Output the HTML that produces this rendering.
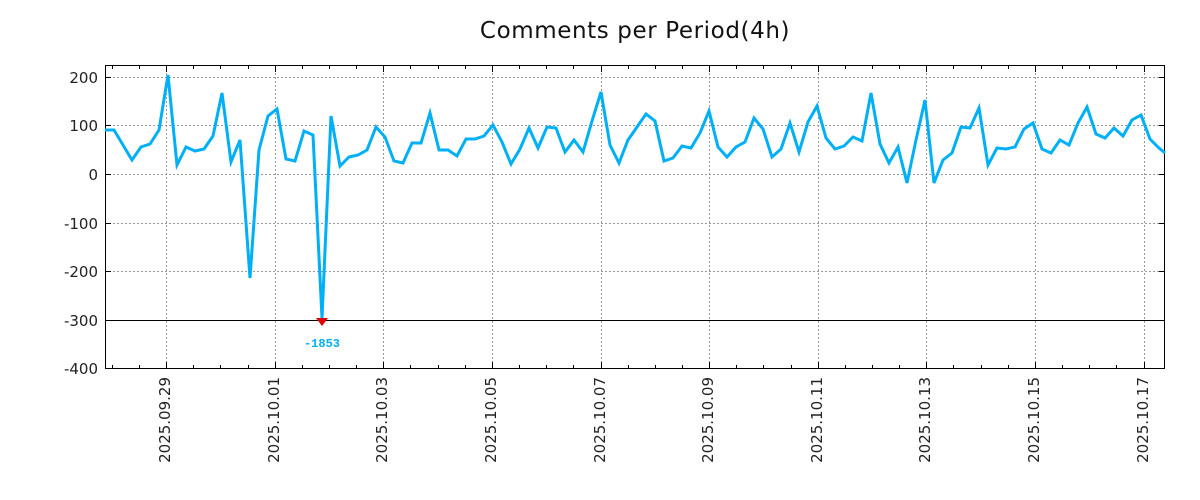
<!DOCTYPE html>
<html><head><meta charset="utf-8"><style>
body{margin:0;background:#fff;}
svg{display:block;font-family:"DejaVu Sans","Liberation Sans",sans-serif;}
</style></head><body>
<svg width="1200" height="500" viewBox="0 0 1200 500" xmlns="http://www.w3.org/2000/svg">
<rect width="1200" height="500" fill="#fff"/>
<text x="635" y="38" font-size="23" letter-spacing="0.6" text-anchor="middle" fill="#111">Comments per Period(4h)</text>
<g stroke="#999" stroke-width="1" stroke-dasharray="2,2">
<line x1="105" y1="77.5" x2="1165" y2="77.5"/>
<line x1="105" y1="125.5" x2="1165" y2="125.5"/>
<line x1="105" y1="174.5" x2="1165" y2="174.5"/>
<line x1="105" y1="223.5" x2="1165" y2="223.5"/>
<line x1="105" y1="271.5" x2="1165" y2="271.5"/>
<line x1="166.5" y1="65" x2="166.5" y2="368"/>
<line x1="275.5" y1="65" x2="275.5" y2="368"/>
<line x1="383.5" y1="65" x2="383.5" y2="368"/>
<line x1="492.5" y1="65" x2="492.5" y2="368"/>
<line x1="601.5" y1="65" x2="601.5" y2="368"/>
<line x1="709.5" y1="65" x2="709.5" y2="368"/>
<line x1="818.5" y1="65" x2="818.5" y2="368"/>
<line x1="926.5" y1="65" x2="926.5" y2="368"/>
<line x1="1035.5" y1="65" x2="1035.5" y2="368"/>
<line x1="1144.5" y1="65" x2="1144.5" y2="368"/>
</g>
<line x1="105" y1="320.5" x2="1165" y2="320.5" stroke="#000" stroke-width="1"/>
<rect x="105.5" y="65.5" width="1059" height="303" fill="none" stroke="#000" stroke-width="1"/>
<g stroke="#000" stroke-width="1">
<path d="M105,77.5h6M105,125.5h6M105,174.5h6M105,223.5h6M105,271.5h6M105,320.5h6M1165,77.5h-6M1165,125.5h-6M1165,174.5h-6M1165,223.5h-6M1165,271.5h-6"/>
<path d="M112.5,368v-3M139.5,368v-3M166.5,368v-6M193.5,368v-3M220.5,368v-3M248.5,368v-3M275.5,368v-6M302.5,368v-3M329.5,368v-3M356.5,368v-3M383.5,368v-6M410.5,368v-3M438.5,368v-3M465.5,368v-3M492.5,368v-6M519.5,368v-3M546.5,368v-3M573.5,368v-3M601.5,368v-6M628.5,368v-3M655.5,368v-3M682.5,368v-3M709.5,368v-6M736.5,368v-3M763.5,368v-3M791.5,368v-3M818.5,368v-6M845.5,368v-3M872.5,368v-3M899.5,368v-3M926.5,368v-6M953.5,368v-3M981.5,368v-3M1008.5,368v-3M1035.5,368v-6M1062.5,368v-3M1089.5,368v-3M1116.5,368v-3M1144.5,368v-6"/>
<path d="M112.5,66v3M139.5,66v3M166.5,66v6M193.5,66v3M220.5,66v3M248.5,66v3M275.5,66v6M302.5,66v3M329.5,66v3M356.5,66v3M383.5,66v6M410.5,66v3M438.5,66v3M465.5,66v3M492.5,66v6M519.5,66v3M546.5,66v3M573.5,66v3M601.5,66v6M628.5,66v3M655.5,66v3M682.5,66v3M709.5,66v6M736.5,66v3M763.5,66v3M791.5,66v3M818.5,66v6M845.5,66v3M872.5,66v3M899.5,66v3M926.5,66v6M953.5,66v3M981.5,66v3M1008.5,66v3M1035.5,66v6M1062.5,66v3M1089.5,66v3M1116.5,66v3M1144.5,66v6"/>
</g>
<g font-size="15" fill="#222" text-anchor="end">
<text x="98" y="83">200</text>
<text x="98" y="131">100</text>
<text x="98" y="180">0</text>
<text x="98" y="229">-100</text>
<text x="98" y="277">-200</text>
<text x="98" y="326">-300</text>
<text x="98" y="374">-400</text>
</g>
<g font-size="15" fill="#222" text-anchor="end">
<text transform="translate(170,377) rotate(-90)">2025.09.29</text>
<text transform="translate(279,377) rotate(-90)">2025.10.01</text>
<text transform="translate(387,377) rotate(-90)">2025.10.03</text>
<text transform="translate(496,377) rotate(-90)">2025.10.05</text>
<text transform="translate(605,377) rotate(-90)">2025.10.07</text>
<text transform="translate(713,377) rotate(-90)">2025.10.09</text>
<text transform="translate(822,377) rotate(-90)">2025.10.11</text>
<text transform="translate(930,377) rotate(-90)">2025.10.13</text>
<text transform="translate(1039,377) rotate(-90)">2025.10.15</text>
<text transform="translate(1148,377) rotate(-90)">2025.10.17</text>
</g>
<polyline fill="none" stroke="#00b0f6" stroke-width="3" points="105,130 114,130 123,145 132,160 141,147 150,144 159,130 168,75 177,165 186,147 195,151 204,149 213,136 222,93 231,162 240,140 250,278 259,150 268,116 277,109 286,159 295,161 304,131 313,135 322,318 331,116 340,166 349,157 358,155 367,150 376,127 385,137 394,161 403,163 412,143 421,143 430,113 439,150 448,150 457,156 466,139 475,139 484,136 493,125 502,142 511,164 520,149 529,128 538,148 547,127 556,128 565,152 574,140 583,152 592,121 601,92 610,145 619,163 628,140 637,127 646,114 655,121 664,161 673,158 682,146 691,148 700,133 709,111 718,147 727,157 736,147 745,142 754,118 763,129 772,157 781,149 790,123 799,152 808,122 817,106 826,138 835,149 844,146 853,137 862,141 871,93 880,144 889,163 898,147 907,183 916,140 925,100 934,183 943,160 952,153 961,127 970,128 979,108 988,165 997,148 1006,149 1015,147 1024,129 1033,123 1042,149 1051,153 1060,140 1069,145 1078,123 1087,107 1096,134 1105,138 1114,128 1123,136 1132,120 1141,115 1150,139 1159,148 1165,153"/>
<polygon points="316,318 328,318 322,326" fill="#e00000"/>
<text x="322" y="347" font-family="'Liberation Mono',monospace" font-weight="bold" font-size="12" fill="#00b0f6" text-anchor="middle">-1853</text>
</svg>
</body></html>
